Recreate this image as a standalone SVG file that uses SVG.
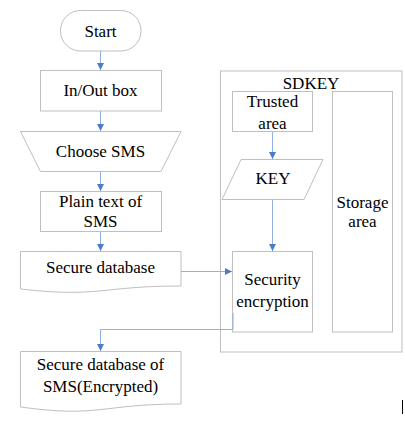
<svg xmlns="http://www.w3.org/2000/svg" width="405" height="425" viewBox="0 0 405 425">
<style>
.shape{fill:#fff;stroke:#bfbfbf;stroke-width:1}
.t{font-family:"Liberation Serif","Times New Roman",serif;font-size:17px;fill:#000;text-anchor:middle}
.conn{fill:none;stroke:#8fb0e0;stroke-width:1}
</style>
<defs>
<marker id="arr" viewBox="0 0 10 10" refX="10" refY="5" markerWidth="7" markerHeight="7" markerUnits="userSpaceOnUse" orient="auto">
<path d="M0,0 L10,5 L0,10 z" fill="#4a7cc9"/>
</marker>
</defs>
<rect width="405" height="425" fill="#fff"/>
<g id="sdkey">
<rect class="shape" x="220.5" y="71" width="181.5" height="281"/>
<text class="t" x="311" y="89">SDKEY</text>
</g>
<g id="start">
<rect class="shape" x="60.5" y="10.5" width="80.5" height="40.5" rx="20" ry="20"/>
<text class="t" x="100.5" y="36.5">Start</text>
</g>
<g id="inout">
<rect class="shape" x="40.5" y="70.5" width="121" height="40.5"/>
<text class="t" x="100.5" y="96">In/Out box</text>
</g>
<g id="choose">
<path class="shape" d="M20.5,131.5 H181 L161,171.5 H40.5 Z"/>
<text class="t" x="100.5" y="157">Choose SMS</text>
</g>
<g id="plain">
<rect class="shape" x="40.5" y="191.5" width="121" height="40"/>
<text class="t" x="100.5" y="206.5">Plain text of</text>
<text class="t" x="100.5" y="227">SMS</text>
</g>
<g id="securedb">
<path class="shape" d="M20.5,251.5 H181 V286 C100,286 100,298 20.5,289 Z"/>
<text class="t" x="100.5" y="272.5">Secure database</text>
</g>
<g id="securedbenc">
<path class="shape" d="M20.5,351.5 H181 V404 C100,404 100,418 20.5,407 Z"/>
<text class="t" x="100.5" y="370">Secure database of</text>
<text class="t" x="100.5" y="391.5">SMS(Encrypted)</text>
</g>
<g id="trusted">
<rect class="shape" x="232.5" y="91.5" width="80" height="40"/>
<text class="t" x="272.5" y="107">Trusted</text>
<text class="t" x="272.5" y="129">area</text>
</g>
<g id="key">
<path class="shape" d="M241,159.5 H323 L304,199.5 H222 Z"/>
<text class="t" x="273" y="183.5">KEY</text>
</g>
<g id="storage">
<rect class="shape" x="332.5" y="91.5" width="60" height="240.5"/>
<text class="t" x="362.5" y="208">Storage</text>
<text class="t" x="362.5" y="226.5">area</text>
</g>
<g id="encryption">
<rect class="shape" x="232.5" y="251.5" width="80" height="80.5"/>
<text class="t" x="272.5" y="285">Security</text>
<text class="t" x="272.5" y="306.5">encryption</text>
</g>
<g id="connectors">
<path class="conn" d="M100.5,51 V70" marker-end="url(#arr)"/>
<path class="conn" d="M100.5,111 V131" marker-end="url(#arr)"/>
<path class="conn" d="M100.5,172 V191" marker-end="url(#arr)"/>
<path class="conn" d="M100.5,232 V251" marker-end="url(#arr)"/>
<path class="conn" d="M181,271.5 H232" marker-end="url(#arr)"/>
<path class="conn" d="M272.5,132 V159" marker-end="url(#arr)"/>
<path class="conn" d="M272.5,200 V251" marker-end="url(#arr)"/>
<path class="conn" d="M233,313 V329.5 H100.5 V351" marker-end="url(#arr)"/>
</g>
<line x1="402.5" y1="400" x2="402.5" y2="414" stroke="#000" stroke-width="1"/>
</svg>
